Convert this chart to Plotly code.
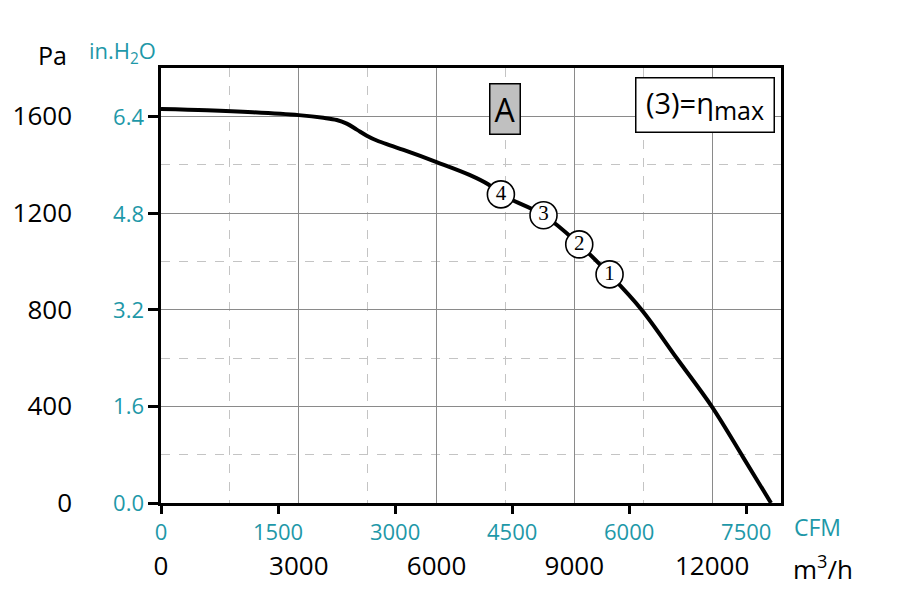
import plotly.graph_objects as go

# ---- data ----
flow_m3h = [0, 1000, 2000, 3000, 3536, 3827, 4045, 4263, 4481, 4699, 4989, 5280, 6000, 6717,
            7131, 7401, 8329, 9107, 9767, 10472, 11235, 11998, 12673, 13283]
pressure_pa = [1630, 1625, 1617, 1605, 1594, 1585, 1570, 1545, 1520, 1500, 1480, 1461, 1411, 1358,
               1318, 1277, 1191, 1070, 946, 798, 598, 398, 190, 0]

point_flow = [9767, 9107, 8329, 7401]
point_pa = [946, 1070, 1191, 1277]
point_labels = ["1", "2", "3", "4"]

m3h_ticks = [0, 3000, 6000, 9000, 12000]
m3h_text = ["0", "3000", "6000", "9000", "12000"]
cfm_ticks = [0, 1500, 3000, 4500, 6000, 7500]
cfm_text = ["0", "1500", "3000", "4500", "6000", "7500"]
pa_ticks = [0, 400, 800, 1200, 1600]
pa_text = ["0", "400", "800", "1200", "1600"]
inh2o_ticks = [0.0, 1.6, 3.2, 4.8, 6.4]
inh2o_text = ["0.0", "1.6", "3.2", "4.8", "6.4"]

X_MAX = 13500
Y_MAX = 1800
CFM_PER_M3H = 1 / 1.699011
INH2O_PER_PA = 1 / 249.089

TEAL = "#1e98a8"
FONT = "Open Sans"

fig = go.Figure()
fig.add_trace(go.Scatter(x=flow_m3h, y=pressure_pa, mode="lines",
                         line=dict(color="black", width=4, shape="spline", smoothing=1.0),
                         hoverinfo="skip", showlegend=False))
fig.add_trace(go.Scatter(x=point_flow, y=point_pa, mode="markers+text",
                         text=point_labels, textposition="middle center",
                         textfont=dict(family="Liberation Serif", size=21, color="black"),
                         marker=dict(size=27, color="white", line=dict(color="black", width=1.6)),
                         showlegend=False, hoverinfo="skip"))

fig.update_layout(
    width=906, height=603,
    margin=dict(l=161, r=125, t=68, b=100),
    paper_bgcolor="white", plot_bgcolor="white",
    font=dict(family=FONT),
    xaxis=dict(range=[0, X_MAX], tickvals=m3h_ticks, ticktext=m3h_text, showgrid=True,
               gridcolor="#8a8a8a", gridwidth=1.2, zeroline=False, ticks="", showline=True,
               linecolor="black", linewidth=2.5, mirror=True,
               tickfont=dict(size=26, color="black", family=FONT), ticklabelstandoff=38,
               minor=dict(dtick=1500, tick0=1500, showgrid=True, gridcolor="#c4c4c4",
                          griddash="dash", gridwidth=1)),
    xaxis2=dict(overlaying="x", side="bottom", anchor="y",
                range=[0, X_MAX * CFM_PER_M3H], tickvals=cfm_ticks, ticktext=cfm_text,
                showgrid=False, zeroline=False, ticks="outside", ticklen=10, tickwidth=3,
                tickcolor="black", showline=False,
                tickfont=dict(size=22, color=TEAL, family=FONT), ticklabelstandoff=0),
    yaxis=dict(range=[0, Y_MAX], tickvals=pa_ticks, ticktext=pa_text, showgrid=True,
               gridcolor="#8a8a8a", gridwidth=1.2, zeroline=False, ticks="outside",
               ticklen=10, tickwidth=3, tickcolor="black", showline=True, linecolor="black",
               linewidth=2.5, mirror=True,
               tickfont=dict(size=26, color="black", family=FONT), ticklabelstandoff=71,
               minor=dict(dtick=400, tick0=200, showgrid=True, gridcolor="#c4c4c4",
                          griddash="dash", gridwidth=1)),
    yaxis2=dict(overlaying="y", side="left", anchor="x",
                range=[0, Y_MAX * INH2O_PER_PA], tickvals=inh2o_ticks, ticktext=inh2o_text,
                showgrid=False, zeroline=False, ticks="", showline=False,
                tickfont=dict(size=22, color=TEAL, family=FONT), ticklabelstandoff=16),
)

# invisible trace to activate the secondary axes
fig.add_trace(go.Scatter(x=[0], y=[0], xaxis="x2", yaxis="y2", mode="markers",
                         marker=dict(opacity=0), showlegend=False, hoverinfo="skip"))

annots = [
    dict(text="Pa", x=52, y=55, font=dict(size=25, color="black")),
    dict(text="in.H<sub>2</sub>O", x=122, y=52, font=dict(size=22, color=TEAL)),
    dict(text="CFM", x=817, y=527, font=dict(size=23, color=TEAL)),
    dict(text="m<sup>3</sup>/h", x=823, y=568, font=dict(size=26, color="black")),
]
for a in annots:
    fig.add_annotation(text=a["text"], xref="paper", yref="paper",
                       x=(a["x"] - 161) / 620, y=(603 - 100 - a["y"]) / 435,
                       xanchor="center", yanchor="middle", showarrow=False,
                       font=dict(family=FONT, **a["font"]))

fig.add_annotation(text="A", x=7495, y=1630, xref="x", yref="y", showarrow=False,
                   font=dict(family=FONT, size=32, color="black"),
                   bgcolor="#c0c0c0", bordercolor="black", borderwidth=1.5,
                   width=29, height=49, borderpad=0)
fig.add_annotation(text="(3)=η<sub><span style='font-size:25px'>max</span></sub>",
                   x=11841, y=1645, xref="x", yref="y",
                   showarrow=False, font=dict(family=FONT, size=29, color="black"),
                   bgcolor="white", bordercolor="black", borderwidth=1.5,
                   width=137, height=53, borderpad=0)

fig.write_html("out.html")
